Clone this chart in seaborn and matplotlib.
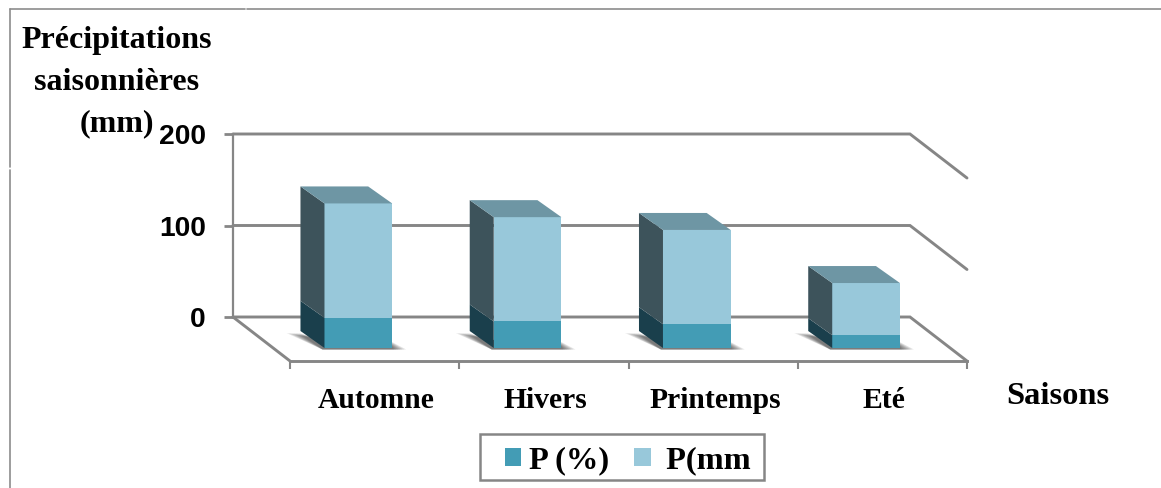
import matplotlib
matplotlib.use("Agg")
import matplotlib.pyplot as plt
from matplotlib.lines import Line2D
from matplotlib.patches import Polygon, Patch, Rectangle
import numpy as np
import pandas as pd
import seaborn as sns

# Seasonal precipitation, stacked: percentage share below, millimetres on top
saisons = ["Automne", "Hivers", "Printemps", "Eté"]
p_pct = [33, 29, 26, 14]
p_mm = [125, 114, 103, 57]
y_ticks = [0, 100, 200]
titre_lignes = ["Précipitations", "saisonnières", "(mm)"]

C_PCT, C_MM = "#439CB5", "#98C8DA"
C_SIDE_PCT, C_SIDE_MM = "#1A3F4C", "#3D535B"
C_TOP = "#6E96A4"
C_LINE = "#868686"
SERIF = "Liberation Serif"
SANS = "Liberation Sans"

W, H = 1161, 488
sns.set_theme(style="white")
fig = plt.figure(figsize=(W / 100, H / 100), dpi=100, facecolor="white")


def rect(x0, y_top, x1, y_bot):
    """Axes rectangle from pixel edges, y counted from the top of the figure."""
    return [x0 / W, 1 - y_bot / H, (x1 - x0) / W, (y_bot - y_top) / H]


def fig_line(xs, ys, **kw):
    fig.add_artist(Line2D(np.array(xs) / W, 1 - np.array(ys) / H, transform=fig.transFigure, **kw))


# Outer frame, with its two thin breaks
for xs, ys in [([10, 10], [9, 167]), ([10, 10], [170, 488]),
               ([10, 245], [9, 9]), ([247, 1161], [9, 9])]:
    fig_line(xs, ys, color="#8c8c8c", lw=1.2)

CAT_PX = 677 / 4
VAL_PX = 183 / 200

# Back wall: y axis and gridlines
wall = fig.add_axes(rect(233, 134, 910, 317), facecolor="none", zorder=1)
wall.set_xlim(-0.5, 3.5)
wall.set_ylim(0, 200)
wall.set_xticks([])
wall.set_yticks(y_ticks)
wall.set_yticklabels([str(v) for v in y_ticks], fontfamily=SANS, fontweight="bold",
                     fontsize=20.3, color="black")
wall.tick_params(axis="y", length=6.5, width=2, color=C_LINE, pad=13, left=True)
sns.despine(ax=wall, top=True, right=True, bottom=True)
wall.spines["left"].set_color(C_LINE)
wall.spines["left"].set_linewidth(1.6)

# Gridlines run along the wall and then forward along the right side
floor_dx = 57 / CAT_PX
floor_dy = -44 / VAL_PX
for v in y_ticks:
    wall.plot([-0.5, 3.5, 3.5 + floor_dx], [v, v, v + floor_dy], color=C_LINE,
              lw=2.1, clip_on=False, solid_joinstyle="miter", zorder=1)
wall.plot([-0.5, -0.5 + floor_dx], [0, floor_dy], color=C_LINE, lw=2.1, clip_on=False, zorder=1)

# Front edge of the floor carries the category axis
floor = fig.add_axes(rect(290, 300, 967, 361), facecolor="none", zorder=2)
floor.set_xlim(-0.5, 3.5)
floor.set_ylim(0, 1)
floor.set_yticks([])
floor.set_xticks(np.arange(4) + 0.01)
floor.set_xticklabels(saisons, fontfamily=SERIF, fontweight="bold", fontsize=21.3, color="black")
floor.set_xticks(np.arange(5) - 0.5, minor=True)
floor.tick_params(axis="x", which="major", length=0, pad=19)
floor.tick_params(axis="x", which="minor", length=6, width=1.5, color=C_LINE, bottom=True)
sns.despine(ax=floor, left=True, top=True, right=True)
floor.spines["bottom"].set_color(C_LINE)
floor.spines["bottom"].set_linewidth(2.1)

# Front plane of the stacked bars
ax = fig.add_axes(rect(273.7, 165, 950.7, 348), facecolor="none", zorder=3)
df = pd.DataFrame({"saison": saisons, "pct": p_pct, "mm": p_mm})
df["total"] = df["pct"] + df["mm"]
sns.barplot(data=df, x="saison", y="total", color=C_MM, saturation=1, width=0.40,
            ax=ax, linewidth=0, zorder=3)
sns.barplot(data=df, x="saison", y="pct", color=C_PCT, saturation=1, width=0.40,
            ax=ax, linewidth=0, zorder=3)
ax.set_xlim(-0.5, 3.5)
ax.set_ylim(0, 200)
ax.axis("off")

# Receding faces of each bar, plus a soft contact shadow
bar_w = 0.40
dx = -24 / CAT_PX
dy = 17 / VAL_PX
for i, (pct, total) in enumerate(zip(df["pct"], df["total"])):
    l, r = i - bar_w / 2, i + bar_w / 2
    for k in range(7):
        g = (7 - k) * 2.0
        shadow = Polygon([(l + dx - g / CAT_PX, dy - 2 / VAL_PX),
                          (l - 2 / CAT_PX, -1.5 / VAL_PX),
                          (r + g / CAT_PX, -1.5 / VAL_PX),
                          (r, (g * 0.35 + 1) / VAL_PX),
                          (l, 8 / VAL_PX)],
                         closed=True, facecolor="#303030", edgecolor="none", alpha=0.13,
                         clip_on=False, zorder=2)
        ax.add_patch(shadow)
    ax.add_patch(Polygon([(l, 0), (l + dx, dy), (l + dx, pct + dy), (l, pct)], closed=True,
                         facecolor=C_SIDE_PCT, edgecolor="none", clip_on=False, zorder=3))
    ax.add_patch(Polygon([(l, pct), (l + dx, pct + dy), (l + dx, total + dy), (l, total)], closed=True,
                         facecolor=C_SIDE_MM, edgecolor="none", clip_on=False, zorder=3))
    ax.add_patch(Polygon([(l, total), (l + dx, total + dy), (r + dx, total + dy), (r, total)], closed=True,
                         facecolor=C_TOP, edgecolor="none", clip_on=False, zorder=3))

# Titles: one text per line so each stays centred on the same column
for ligne, base in zip(titre_lignes, [48, 90, 131]):
    fig.text(117 / W, 1 - base / H, ligne, ha="center", va="baseline",
             fontfamily=SERIF, fontweight="bold", fontsize=23, color="black", zorder=5)
fig.text(1058 / W, 1 - 396 / H, "Saisons", ha="center", va="center",
         fontfamily=SERIF, fontweight="bold", fontsize=23.4, color="black")

# Legend: box drawn separately so its side margins can exceed its top and bottom ones
fig.add_artist(Rectangle((480 / W, 1 - 480 / H), 284 / W, 46 / H, transform=fig.transFigure,
                         facecolor="white", edgecolor=C_LINE, linewidth=1.8, zorder=4))
handles = [Patch(facecolor=C_PCT, edgecolor="none"), Patch(facecolor=C_MM, edgecolor="none")]
leg = fig.legend(handles, ["P (%)", " P(mm"], ncol=2, loc="center",
                 bbox_to_anchor=(627.5 / W, 1 - 461 / H), frameon=False,
                 labelcolor="black",
                 prop={"family": SERIF, "weight": "bold", "size": 23.4},
                 handlelength=0.52, handleheight=0.52, handletextpad=0.22, columnspacing=0.77,
                 borderpad=0, borderaxespad=0)
leg.set_zorder(6)

fig.savefig("out.png", dpi=100, facecolor="white")
